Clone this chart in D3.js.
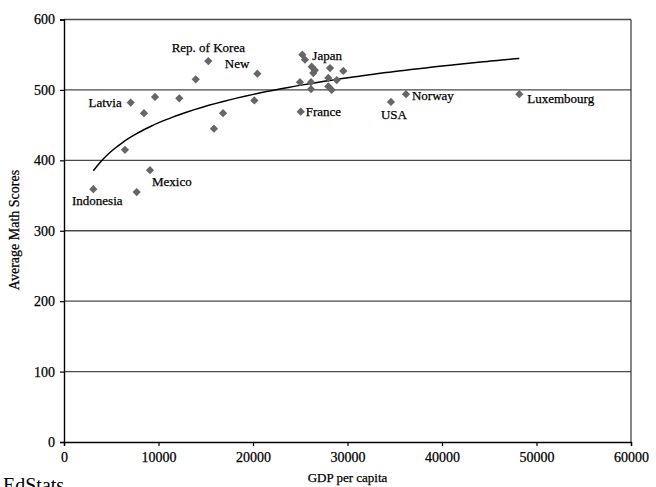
<!DOCTYPE html>
<html>
<head>
<meta charset="utf-8">
<script src="https://cdn.jsdelivr.net/npm/d3@7"></script>
<style>
  body { margin: 0; background: #fff; }
  svg text { font-family: "Liberation Serif", "DejaVu Serif", serif; fill: #000; stroke: #000; stroke-width: 0.25px; }
</style>
</head>
<body>
<div id="chart"></div>
<script>
// GDP per capita vs average math score, one entry per country
var gdp = [3100, 7690, 9100, 6450, 7060, 8460, 9630, 12200, 13940, 15270, 15870,
  16830, 20140, 20460, 24970, 25050, 25220, 25500, 26210, 26550, 26380, 26140,
  26140, 27970, 27970, 28150, 28330, 28860, 29560, 34600, 36190, 48180];
var mathScore = [359, 355, 386, 415, 482, 467, 490, 488, 515, 541, 445,
  467, 485, 523, 511, 469, 550, 543, 533, 528, 524, 511,
  501, 517, 505, 531, 500, 514, 527, 483, 494, 494];
var country = ["Indonesia", "", "Mexico", "", "Latvia", "", "", "", "", "Rep. of Korea", "",
  "", "", "New", "", "France", "Japan", "", "", "", "", "",
  "", "", "", "", "", "", "", "USA", "Norway", "Luxembourg"];

var xTicks = [0, 10000, 20000, 30000, 40000, 50000, 60000];
var yTicks = [0, 100, 200, 300, 400, 500, 600];

var width = 656;
var height = 487;
var margin = { top: 19.5, right: 25, bottom: 45, left: 64 };

// label placement next to its marker
var labelPlace = {
  "Indonesia": { dx: 4, dy: 16, anchor: "middle" },
  "Mexico": { dx: 2, dy: 16, anchor: "start" },
  "Latvia": { dx: -9, dy: 4, anchor: "end" },
  "Rep. of Korea": { dx: 0, dy: -9, anchor: "middle" },
  "New": { dx: -8, dy: -6, anchor: "end" },
  "France": { dx: 5, dy: 4, anchor: "start" },
  "Japan": { dx: 10, dy: 5, anchor: "start" },
  "USA": { dx: 3, dy: 17, anchor: "middle" },
  "Norway": { dx: 6, dy: 6, anchor: "start" },
  "Luxembourg": { dx: 8, dy: 9, anchor: "start" }
};

var svg = d3.select("#chart")
  .append("svg")
  .attr("width", width)
  .attr("height", height);

var xScale = d3.scaleLinear()
  .domain([0, 60000])
  .range([margin.left, width - margin.right]);
var yScale = d3.scaleLinear()
  .domain([0, 600])
  .range([height - margin.bottom, margin.top]);

// gridlines
svg.append("g")
  .selectAll("line")
  .data(yTicks.slice(1))
  .enter()
  .append("line")
  .attr("x1", xScale(0))
  .attr("x2", xScale(60000))
  .attr("y1", function(d) { return yScale(d); })
  .attr("y2", function(d) { return yScale(d); })
  .attr("stroke", "#4a4a4a")
  .attr("stroke-width", 1.3);

// right border
svg.append("line")
  .attr("x1", xScale(60000))
  .attr("x2", xScale(60000))
  .attr("y1", yScale(0))
  .attr("y2", yScale(600))
  .attr("stroke", "#333")
  .attr("stroke-width", 1.2);

// axes
var xAxis = d3.axisBottom(xScale).tickValues(xTicks).tickFormat(d3.format("d")).tickSize(4);
var yAxis = d3.axisLeft(yScale).tickValues(yTicks).tickFormat(d3.format("d")).tickSize(4);

var gx = svg.append("g")
  .attr("transform", "translate(0," + yScale(0) + ")")
  .call(xAxis);
var gy = svg.append("g")
  .attr("transform", "translate(" + xScale(0) + ",0)")
  .call(yAxis);

[gx, gy].forEach(function(g) {
  g.select(".domain").attr("stroke", "#000").attr("stroke-width", 1.4);
  g.selectAll(".tick line").attr("stroke", "#000").attr("stroke-width", 1.2);
  g.selectAll(".tick text")
    .attr("font-family", "Liberation Serif, serif")
    .attr("font-size", 14)
    .attr("fill", "#000");
});
gx.selectAll(".tick text").attr("dy", "0.95em");
gy.selectAll(".tick text").attr("x", -9);

// logarithmic trend line fitted to the points
var lx = gdp.map(function(v) { return Math.log(v); });
var mx = d3.mean(lx);
var my = d3.mean(mathScore);
var sxy = d3.sum(lx, function(v, i) { return (v - mx) * (mathScore[i] - my); });
var sxx = d3.sum(lx, function(v) { return (v - mx) * (v - mx); });
var slope = sxy / sxx;
var intercept = my - slope * mx;

var trendX = d3.range(60).map(function(i) {
  return d3.min(gdp) + (d3.max(gdp) - d3.min(gdp)) * i / 59;
});
var line = d3.line()
  .x(function(d) { return xScale(d); })
  .y(function(d) { return yScale(intercept + slope * Math.log(d)); })
  .curve(d3.curveBasis);

svg.append("path")
  .datum(trendX)
  .attr("d", line)
  .attr("fill", "none")
  .attr("stroke", "#000")
  .attr("stroke-width", 1.5);

// points
var pts = gdp.map(function(g, i) { return { x: g, y: mathScore[i], name: country[i] }; });

svg.append("g")
  .selectAll("path")
  .data(pts)
  .enter()
  .append("path")
  .attr("d", d3.symbol().type(d3.symbolSquare).size(34))
  .attr("transform", function(d) {
    return "translate(" + xScale(d.x) + "," + yScale(d.y) + ") rotate(45)";
  })
  .attr("fill", "#666");

// country labels
svg.append("g")
  .selectAll("text")
  .data(pts.filter(function(d) { return d.name !== ""; }))
  .enter()
  .append("text")
  .attr("x", function(d) { return xScale(d.x) + labelPlace[d.name].dx; })
  .attr("y", function(d) { return yScale(d.y) + labelPlace[d.name].dy; })
  .attr("text-anchor", function(d) { return labelPlace[d.name].anchor; })
  .attr("font-size", 13)
  .text(function(d) { return d.name; });

// axis titles
svg.append("text")
  .attr("x", (xScale(0) + xScale(60000)) / 2)
  .attr("y", 482)
  .attr("text-anchor", "middle")
  .attr("font-size", 13)
  .text("GDP per capita");

svg.append("text")
  .attr("transform", "translate(19,230) rotate(-90)")
  .attr("text-anchor", "middle")
  .attr("font-size", 14)
  .text("Average Math Scores");

svg.append("text")
  .attr("x", 3)
  .attr("y", 492)
  .attr("font-size", 20)
  .attr("fill", "#222")
  .style("stroke-width", "0px")
  .text("EdStats");
</script>
</body>
</html>
